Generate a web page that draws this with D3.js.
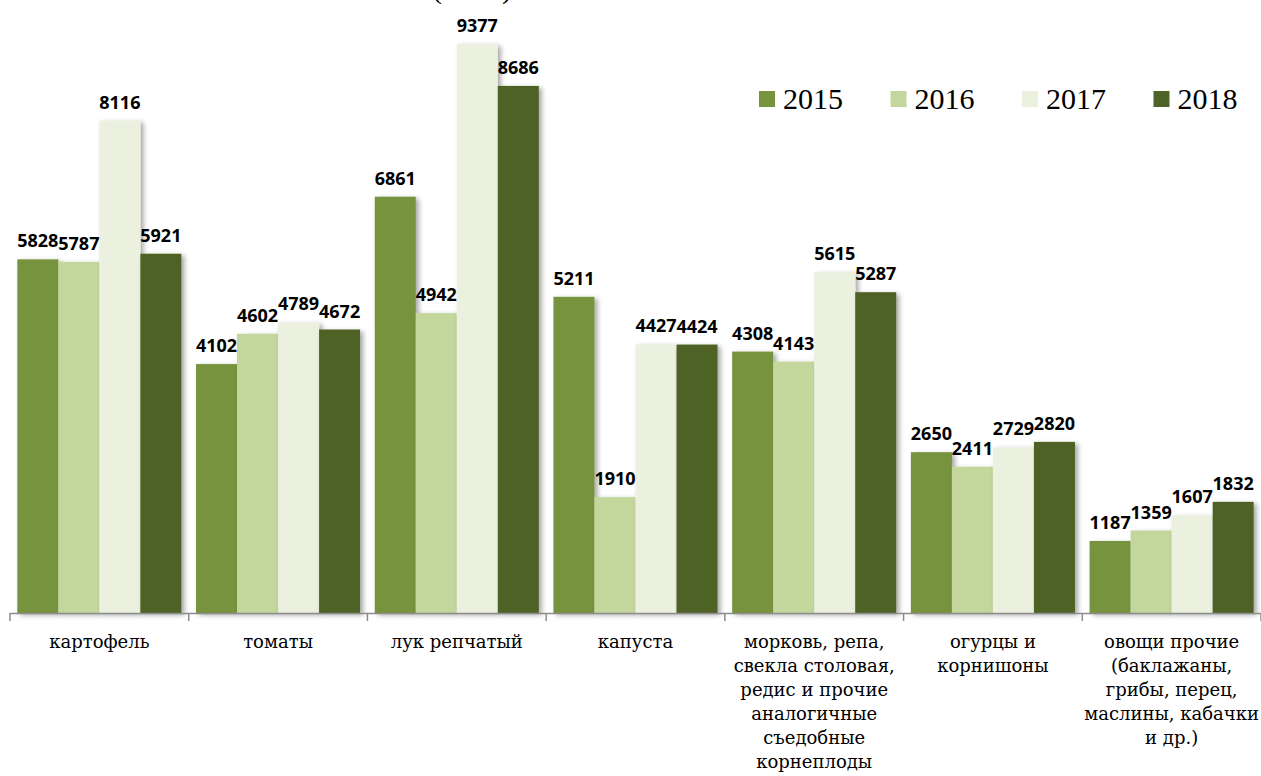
<!DOCTYPE html>
<html>
<head>
<meta charset="utf-8">
<script src="https://cdn.jsdelivr.net/npm/d3@7"></script>
<style>
  body { margin: 0; background: #fff; }
  .val { font-family: "Open Sans", "DejaVu Sans", sans-serif; font-weight: bold; font-size: 18px; fill: #000; }
  .cat { font-family: "DejaVu Serif", "Liberation Serif", serif; font-size: 18px; fill: #000; }
  .leg { font-family: "Liberation Serif", "DejaVu Serif", serif; font-size: 30px; fill: #000; }
</style>
</head>
<body>
<svg class="chart"></svg>
<script>
var categories = [
  ["картофель"],
  ["томаты"],
  ["лук репчатый"],
  ["капуста"],
  ["морковь, репа,", "свекла столовая,", "редис и прочие", "аналогичные", "съедобные", "корнеплоды"],
  ["огурцы и", "корнишоны"],
  ["овощи прочие", "(баклажаны,", "грибы, перец,", "маслины, кабачки", "и др.)"]
];
var years = ["2015", "2016", "2017", "2018"];
var v2015 = [5828, 4102, 6861, 5211, 4308, 2650, 1187];
var v2016 = [5787, 4602, 4942, 1910, 4143, 2411, 1359];
var v2017 = [8116, 4789, 9377, 4427, 5615, 2729, 1607];
var v2018 = [5921, 4672, 8686, 4424, 5287, 2820, 1832];
var colors = ["#77933c", "#c3d69b", "#ebf1de", "#4f6228"];

var W = 1261, H = 776;
var baseY = 613;
var svg = d3.select(".chart").attr("width", W).attr("height", H);

var defs = svg.append("defs");
var f = defs.append("filter").attr("id", "shadow")
  .attr("x", "-20%").attr("y", "-20%").attr("width", "160%").attr("height", "140%");
f.append("feDropShadow").attr("dx", 3).attr("dy", 2).attr("stdDeviation", 2.5)
  .attr("flood-color", "#000").attr("flood-opacity", 0.35);

// title (cut off at the top in the original, only the brackets show)
svg.append("text")
  .attr("x", 472).attr("y", -2)
  .attr("text-anchor", "middle")
  .attr("class", "leg")
  .text("(тонн)");

var x0 = d3.scaleBand().domain(d3.range(categories.length)).range([10, W]).paddingInner(0.082).paddingOuter(0.041);
var x1 = d3.scaleBand().domain(years).range([0, x0.bandwidth()]);
var y = d3.scaleLinear().domain([0, 9377]).range([baseY, 44]);

var series = [v2015, v2016, v2017, v2018];
var rows = [];
categories.forEach(function(c, i) {
  years.forEach(function(yr, j) {
    rows.push({cat: i, year: yr, idx: j, value: series[j][i]});
  });
});

var bars = svg.append("g");
bars.selectAll("rect")
  .data(rows)
  .enter().append("rect")
  .attr("x", function(d) { return x0(d.cat) + x1(d.year); })
  .attr("y", function(d) { return y(d.value); })
  .attr("width", x1.bandwidth())
  .attr("height", function(d) { return baseY - y(d.value); })
  .attr("fill", function(d) { return colors[d.idx]; })
  .attr("filter", "url(#shadow)");

svg.append("g").selectAll("text")
  .data(rows)
  .enter().append("text")
  .attr("class", "val")
  .attr("x", function(d) { return x0(d.cat) + x1(d.year) + x1.bandwidth() / 2; })
  .attr("y", function(d) { return y(d.value) - 12; })
  .attr("text-anchor", "middle")
  .text(function(d) { return d.value; });

// x axis
var step = (W - 10) / categories.length;
var axis = svg.append("g");
axis.append("line")
  .attr("x1", 10).attr("x2", W).attr("y1", baseY + 0.5).attr("y2", baseY + 0.5)
  .attr("stroke", "#8c8c8c").attr("stroke-width", 1.5);
axis.selectAll(".tick")
  .data(d3.range(categories.length + 1))
  .enter().append("line")
  .attr("x1", function(d) { return 10 + d * step; })
  .attr("x2", function(d) { return 10 + d * step; })
  .attr("y1", baseY).attr("y2", baseY + 8)
  .attr("stroke", "#8c8c8c").attr("stroke-width", 1.5);

var labels = svg.append("g").selectAll("text")
  .data(categories)
  .enter().append("text")
  .attr("class", "cat")
  .attr("text-anchor", "middle")
  .attr("x", function(d, i) { return x0(i) + x0.bandwidth() / 2; })
  .attr("y", 648);
labels.selectAll("tspan")
  .data(function(d) { return d; })
  .enter().append("tspan")
  .attr("x", function() { return this.parentNode.getAttribute("x"); })
  .attr("dy", function(d, i) { return i === 0 ? 0 : 24; })
  .text(function(d) { return d; });

// legend
var leg = svg.append("g").selectAll("g")
  .data(years)
  .enter().append("g")
  .attr("transform", function(d, i) { return "translate(" + (759 + i * 131.5) + ",91)"; });
leg.append("rect").attr("width", 16).attr("height", 16)
  .attr("fill", function(d, i) { return colors[i]; });
leg.append("text").attr("class", "leg").attr("x", 24).attr("y", 18).text(function(d) { return d; });
</script>
</body>
</html>
